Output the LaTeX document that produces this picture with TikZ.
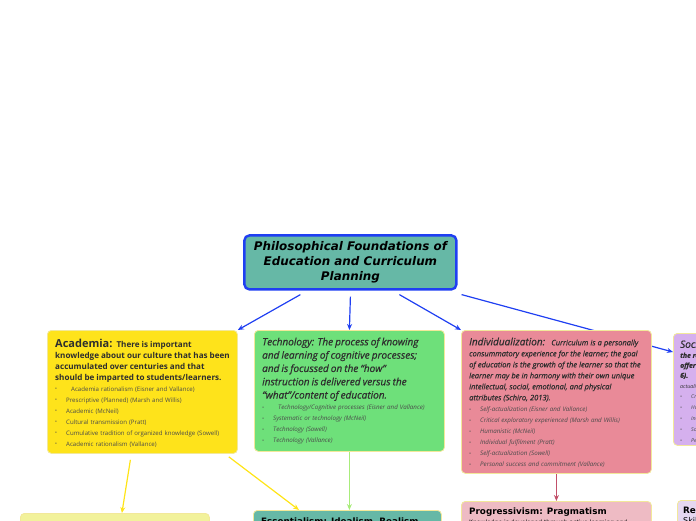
\documentclass[tikz,border=0pt]{standalone}
\usepackage{fontspec}
\newfontfamily\osans{Open Sans}
\newfontfamily\osemb[FakeBold=0.6]{Open Sans}
\newfontfamily\dvs{DejaVu Sans}
\usetikzlibrary{arrows.meta,backgrounds}
\definecolor{cTeal}{HTML}{66B8A6}
\definecolor{cBlue}{HTML}{1F3FF2}
\definecolor{cYel}{HTML}{FEE31B}
\definecolor{cYelLine}{HTML}{FFE417}
\definecolor{cGreen}{HTML}{6EE07A}
\definecolor{cGreenLine}{HTML}{A8EC7A}
\definecolor{cPink}{HTML}{E98A98}
\definecolor{cPinkLine}{HTML}{C2506A}
\definecolor{cPurp}{HTML}{D5B0EE}
\definecolor{cPaleYel}{HTML}{F2F29B}
\definecolor{cPalePink}{HTML}{EEBBC4}
\definecolor{cPalePurp}{HTML}{E5D7F0}
\definecolor{cBorder}{HTML}{F2E89A}
\definecolor{cText}{HTML}{2E2E2E}
\definecolor{cSub}{HTML}{4A4A4A}
\tikzset{
  box/.style={anchor=north west, rounded corners=4pt, draw=cBorder, line width=0.8pt, inner sep=0pt},
  txt/.style={anchor=north west, inner sep=0pt, align=left, text=cText},
  conn/.style={line width=1.2pt, -{Stealth[length=6pt,width=5pt]}},
}
\newcommand{\bul}[1]{\makebox[11pt][l]{\raisebox{0.3pt}{\tiny•}}#1\\}
\begin{document}
\begin{tikzpicture}[x=1pt,y=-1pt]
\useasboundingbox (0,0) rectangle (696,520);
\clip (0,0) rectangle (696,520);

% title
\node[box, fill=cTeal, draw=cBlue, line width=2.4pt, minimum width=212pt, minimum height=54pt, rounded corners=5pt,
      font=\dvs\bfseries\itshape\fontsize{11.9}{15}\selectfont, align=center, text=black] (title) at (243.2,234.2)
  {Philosophical Foundations of\\Education and Curriculum\\Planning};

% academia
\node[box, fill=cYel, minimum width=190pt, minimum height=123pt] (acad) at (47,330) {};
\node[txt, text width=188pt, font=\osans\fontsize{6.1}{11}\selectfont] (acadtxt) at ([shift={(8pt,-8.5pt)}]acad.north west)
  {{\bfseries\fontsize{8.1}{11}\selectfont{\fontsize{11}{11}\selectfont Academia:}\ \ There is important\\
   knowledge about our culture that has been\\
   accumulated over centuries and that\\
   should be imparted to students/learners.\\}
   {\color{cSub}
   \bul{\hspace{5pt}Academia rationalism (Eisner and Vallance)}
   \bul{Prescriptive (Planned) (Marsh and Willis)}
   \bul{Academic (McNeil)}
   \bul{Cultural transmission (Pratt)}
   \bul{Cumulative tradition of organized knowledge (Sowell)}
   \bul{Academic rationalism (Vallance)}}};

% technology
\node[box, fill=cGreen, minimum width=190pt, minimum height=121pt] (tech) at (254,330) {};
\node[txt, text width=188pt, font=\osans\itshape\fontsize{6.2}{11}\selectfont] (techtxt) at ([shift={(8pt,-7.5pt)}]tech.north west)
  {{\osemb\itshape\fontsize{10}{13.3}\selectfont Technology: The process of knowing\\
   and learning of cognitive processes;\\
   and is focussed on the “how”\\
   instruction is delivered versus the\\
   “what”/content of education.\\[0pt]}
   {\color{cSub}
   \bul{\hspace{5pt}Technology/Cognitive processes (Eisner and Vallance)}
   \bul{Systematic or technology (McNeil)}
   \bul{Technology (Sowell)}
   \bul{Technology (Vallance)}}};

% individualization
\node[box, fill=cPink, minimum width=190pt, minimum height=143pt] (indiv) at (461,330) {};
\node[txt, text width=188pt, font=\osans\itshape\fontsize{6.2}{11}\selectfont] (indivtxt) at ([shift={(8pt,-7.5pt)}]indiv.north west)
  {{\osemb\itshape\fontsize{7.5}{11}\selectfont{\fontsize{10}{11}\selectfont Individualization:}\ \ \ Curriculum is a personally\\
   consummatory experience for the learner; the goal\\
   of education is the growth of the learner so that the\\
   learner may be in harmony with their own unique\\
   intellectual, social, emotional, and physical\\
   attributes (Schiro, 2013).\\}
   {\color{cSub}
   \bul{Self-actualization (Eisner and Vallance)}
   \bul{Critical exploratory experienced (Marsh and Willis)}
   \bul{Humanistic (McNeil)}
   \bul{Individual fulfilment (Pratt)}
   \bul{Self-actualization (Sowell)}
   \bul{Personal success and commitment (Vallance)}}};

% social
\node[box, fill=cPurp, minimum width=190pt, minimum height=112pt] (soc) at (673,333) {};
\node[txt, text width=185pt, font=\osans\itshape\fontsize{5.3}{11}\selectfont] (soctxt) at ([shift={(7pt,-7pt)}]soc.north west)
  {{\osemb\itshape\fontsize{10}{12}\selectfont Social Reconstruction:}\\
   {\osemb\itshape\bfseries\fontsize{6.8}{10}\selectfont the role of the school is to\\
   offer a way to reconstruct society (Schiro, 2013, p.\\
   6).\\}
   actualization\\[-1pt]
   {\color{cSub}
   \bul{Critical}
   \bul{Humanistic}
   \bul{Individual}
   \bul{Social}
   \bul{Personal}}};

% bottom row
\node[box, fill=cPaleYel, minimum width=189pt, minimum height=40pt] (pale) at (20,513) {};
\node[box, fill=cTeal, minimum width=188pt, minimum height=40pt] (ess) at (253,510) {};
\node[txt, font=\dvs\bfseries\fontsize{8.8}{11}\selectfont, text=black] (esstxt) at ([shift={(8pt,-8pt)}]ess.north west)
  {Essentialism: Idealism, Realism};
\node[box, fill=cPalePink, minimum width=190pt, minimum height=40pt] (prog) at (461,501) {};
\node[txt, font=\dvs\fontsize{6}{9.5}\selectfont, text=black] (progtxt) at ([shift={(8pt,-7pt)}]prog.north west)
  {{\bfseries\fontsize{8.8}{11}\selectfont Progressivism: Pragmatism}\\
   Knowledge is developed through active learning and};
\node[box, fill=cPalePurp, minimum width=190pt, minimum height=40pt] (recon) at (677,500) {};
\node[txt, font=\dvs\fontsize{8}{9.5}\selectfont, text=black] (recontxt) at ([shift={(6pt,-7pt)}]recon.north west)
  {{\bfseries\fontsize{8.8}{9}\selectfont Reconstructionism}\\
   Skills};

% connectors
\begin{scope}[on background layer]
\draw[conn, cBlue] ([shift={(-50pt,-4pt)}]title.south) -- (acad.north east);
\draw[conn, cBlue] ([shift={(0pt,-6pt)}]title.south) -- (tech.north);
\draw[conn, cBlue] ([shift={(49pt,-4pt)}]title.south) -- (indiv.north west);
\draw[conn, cBlue] ([shift={(4pt,-4pt)}]title.south east) -- ([shift={(0pt,-19pt)}]soc.north west);
\draw[conn, cYelLine] ([shift={(-12pt,-6pt)}]acad.south) -- ([shift={(7pt,0pt)}]pale.north);
\draw[conn, cYelLine] ([shift={(-9pt,-3pt)}]acad.south east) -- ([shift={(46pt,0pt)}]ess.north west);
\draw[conn, cGreenLine] (tech.south) -- (tech.south |- ess.north);
\draw[conn, cPinkLine] (indiv.south) -- (prog.north);
\end{scope}
\end{tikzpicture}
\end{document}
